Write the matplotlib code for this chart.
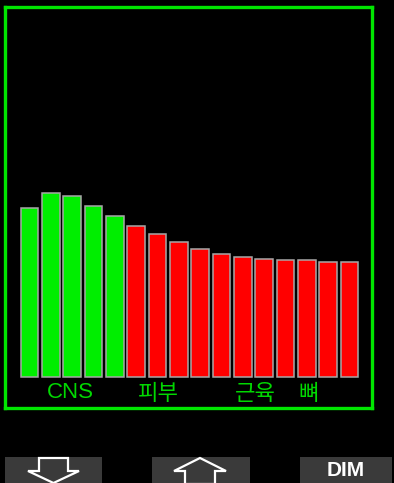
import matplotlib
matplotlib.use("Agg")
import matplotlib.pyplot as plt
from matplotlib.patches import Rectangle, Polygon

# --------------------- data ---------------------
tissue_loading = [169, 184, 181, 171, 161, 151, 143, 135, 128, 123, 120, 118, 117, 117, 115, 115]
bar_colors = ["#00ee00"] * 5 + ["#ff0000"] * 11
group_labels = ["CNS", "피부", "근육", "뼈"]
group_pos = [1.9, 6.05, 10.6, 13.1]
button_labels = ["", "", "DIM"]
# ----------------------------------------------------------------------

W, H = 394, 483
GREEN = "#00e600"
FONTS = ["Noto Sans CJK KR", "DejaVu Sans"]

fig = plt.figure(figsize=(W / 100, H / 100), dpi=100, facecolor="black")

# main panel with green frame (pixel box 5..372 x 7..408)
ax = fig.add_axes([5 / W, 1 - 408 / H, 367 / W, 401 / H])
ax.set_facecolor("black")
x = list(range(len(tissue_loading)))
ax.bar(x, tissue_loading, width=0.83, color=bar_colors, edgecolor="#a8a8a8", linewidth=1.1)
ax.set_xlim(-1.15, 16.06)
ax.set_ylim(-31, 370)
for lbl, pos in zip(group_labels, group_pos):
    fam = ["Liberation Sans"] if lbl.isascii() else FONTS
    ax.text(pos, -16, lbl, color="#00d800", fontsize=16, ha="center", va="center", family=fam)
ax.set_xticks([])
ax.set_yticks([])
for s in ax.spines.values():
    s.set_color(GREEN)
    s.set_linewidth(2.4)

# bottom soft-key bar
ov = fig.add_axes([0, 0, 1, 1])
ov.set_xlim(0, W)
ov.set_ylim(H, 0)
ov.axis("off")
ov.patch.set_alpha(0)
btn_x = [(5, 102), (152, 250), (300, 392)]
for (x0, x1), lbl in zip(btn_x, button_labels):
    ov.add_patch(Rectangle((x0, 457), x1 - x0, 26, facecolor="#3a3a3a", edgecolor="none"))
    if lbl:
        ov.text((x0 + x1) / 2, 470, lbl, color="white", fontsize=15, fontweight="bold",
                ha="center", va="center", family="Liberation Sans")

down = [(39, 458), (68, 458), (68, 471), (79, 471), (53.5, 483), (28, 471), (39, 471)]
up = [(200, 458), (226, 471), (215, 471), (215, 484), (185, 484), (185, 471), (174, 471)]
for pts in (down, up):
    ov.add_patch(Polygon(pts, closed=True, facecolor="none", edgecolor="white", linewidth=1.6))

fig.savefig("out.png", dpi=100, facecolor="black")
